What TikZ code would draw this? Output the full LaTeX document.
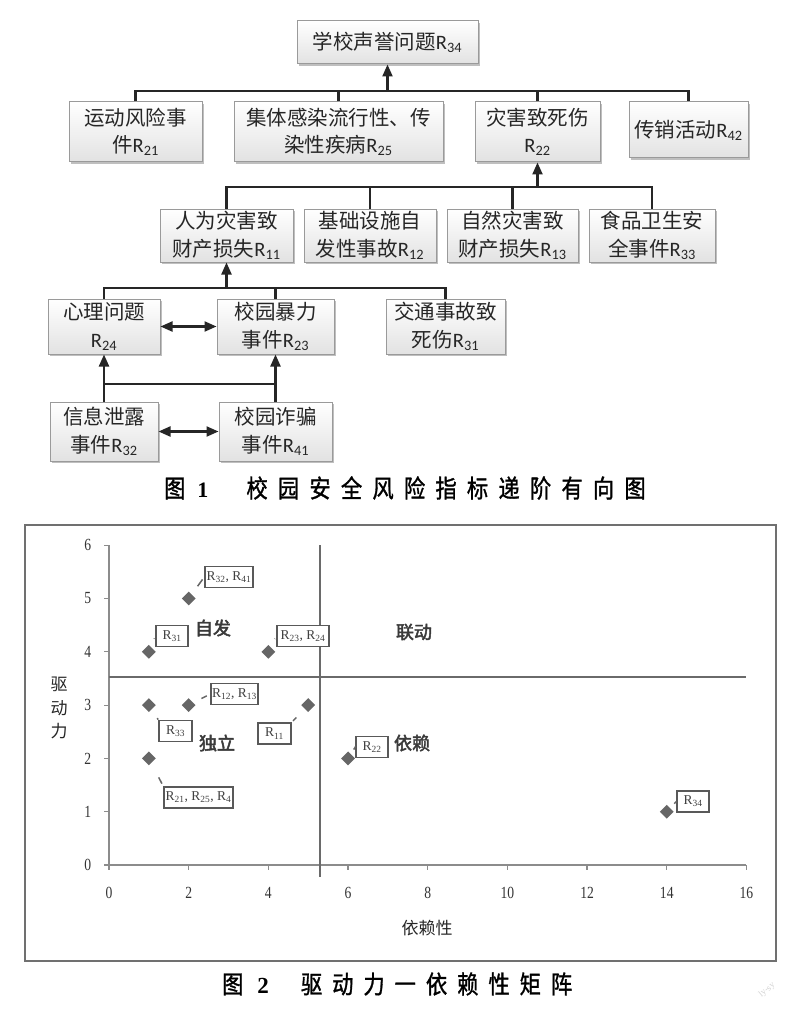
\documentclass[tikz,border=0pt]{standalone}
\usepackage{fontspec}
\setmainfont{Noto Sans CJK SC}
\newfontfamily\latin{Carlito}
\newfontfamily\ser{Liberation Serif}
\newfontfamily\sern[FakeStretch=0.8]{Liberation Serif}
\newfontfamily\cjkb[FakeBold=2.5]{Noto Sans CJK SC}
\newfontfamily\capa[FakeBold=1.2,FakeStretch=0.85,LetterSpace=41]{Noto Sans CJK SC}
\newfontfamily\capb[FakeBold=1.2,FakeStretch=0.85,LetterSpace=40]{Noto Sans CJK SC}
\usepackage{tikz}
\usetikzlibrary{arrows.meta,positioning,shapes.geometric,shadows}
\definecolor{boxline}{HTML}{9A9A9A}
\definecolor{boxbot}{HTML}{E2E2E2}
\definecolor{axisg}{HTML}{8C8C8C}
\definecolor{divg}{HTML}{6A6A6A}
\definecolor{ptg}{HTML}{666666}
\definecolor{quadg}{HTML}{3A3A3A}
\tikzset{
  % gray gradient box of the hierarchy, with a soft shadow
  blk/.style   = {rectangle, draw=boxline, top color=white, bottom color=boxbot, line width=1pt,
                  align=center, inner sep=0pt, text=black!85,
                  font=\fontsize{20.5}{27.5}\selectfont,
                  drop shadow={shadow xshift=2pt, shadow yshift=-2pt, opacity=0.25, fill=black}},
  sz/.style 2 args = {minimum width=#1pt, minimum height=#2pt},
  wire/.style  = {line width=2.2pt, black!85},
  arr/.style   = {wire, -{Triangle[length=12pt,width=10pt]}},
  darr/.style  = {wire, {Triangle[length=12pt,width=10pt]}-{Triangle[length=12pt,width=10pt]}},
  captxt/.style = {text=black, inner sep=0pt},
  frame/.style = {draw=axisg!80!black, line width=2pt},
  axis/.style  = {draw=axisg, line width=1.2pt},
  div/.style   = {draw=divg, line width=1.6pt},
  tick/.style  = {font=\sern\fontsize{17}{17}\selectfont, text=black!80},
  ttl/.style   = {font=\fontsize{17}{23.5}\selectfont, text=black!85, align=center},
  pt/.style    = {diamond, fill=ptg, inner sep=0pt, minimum size=14pt},
  lab/.style   = {rectangle, draw=black!65, line width=1.4pt, fill=white, inner sep=0pt,
                  minimum height=21pt, font=\ser\fontsize{13.5}{13.5}\selectfont, text=black!75},
  lead/.style  = {draw=ptg, line width=1.5pt},
  quad/.style  = {font=\cjkb\fontsize{18}{18}\selectfont, text=quadg},
}
\newcommand{\rsub}[1]{{\latin R\textsubscript{#1}}}
\newcommand{\rlab}[1]{R\textsubscript{#1}}

\begin{document}
\begin{tikzpicture}[x=1pt,y=-1pt]
\useasboundingbox (0,0) rectangle (800,1011);
% --- hierarchy: boxes, top to bottom ---------------------------------------
\node[blk, sz={181}{43}] (r34) at (387.5,42.5) {学校声誉问题\rsub{34}};
\node[blk, sz={133}{60}] (r21) at (135.5,132) {运动风险事\\件\rsub{21}};
\node[blk, sz={209}{60}] (r25) at (338.5,132) {集体感染流行性、传\\染性疾病\rsub{25}};
\node[blk, sz={125}{60}] (r22) at (537.5,132) {灾害致死伤\\\rsub{22}};
\node[blk, sz={119}{56}] (r42) at (688.5,130) {传销活动\rsub{42}};
\node[blk, sz={133}{53}] (r11) at (226.5,235.5) {人为灾害致\\财产损失\rsub{11}};
\node[blk, sz={132}{53}] (r12) at (370,235.5) {基础设施自\\发性事故\rsub{12}};
\node[blk, sz={131}{53}] (r13) at (512.5,235.5) {自然灾害致\\财产损失\rsub{13}};
\node[blk, sz={126}{53}] (r33) at (652,235.5) {食品卫生安\\全事件\rsub{33}};
\node[blk, sz={112}{55}] (r24) at (104,326.5) {心理问题\\\rsub{24}};
\node[blk, sz={117}{55}] (r23) at (275.5,326.5) {校园暴力\\事件\rsub{23}};
\node[blk, sz={119}{55}] (r31) at (445.5,326.5) {交通事故致\\死伤\rsub{31}};
\node[blk, sz={108}{59}] (r32) at (104,431.5) {信息泄露\\事件\rsub{32}};
\node[blk, sz={113}{59}] (r41) at (275.5,431.5) {校园诈骗\\事件\rsub{41}};
% --- hierarchy: bus lines and arrows ----------------------------------------
\coordinate (bus1) at (387.5,91);
\coordinate (bus2) at (537.5,187);
\coordinate (bus3) at (226.5,288);
\coordinate (bus4) at (104,384);
\draw[wire] (r21.north) |- (bus1) -| (r42.north);
\draw[wire] (r25.north) -- (r25.north |- bus1);
\draw[wire] (r22.north) -- (r22.north |- bus1);
\draw[arr] (bus1) -- (r34.south);
\draw[wire] (r11.north) |- (bus2) -| (r33.north);
\draw[wire] (r12.north) -- (r12.north |- bus2);
\draw[wire] (r13.north) -- (r13.north |- bus2);
\draw[arr] (bus2) -- (r22.south);
\draw[wire] (r24.north) |- (bus3) -| (r31.north);
\draw[wire] (r23.north) -- (r23.north |- bus3);
\draw[arr] (bus3) -- (r11.south);
\draw[darr] (r24) -- (r23);
\draw[darr] (r32) -- (r41);
\draw[arr] (r32.north) -- (r24.south);
\draw[arr] (r41.north) -- (r23.south);
\draw[wire] (bus4) -- (bus4 -| r41.north);
\node[captxt, anchor=west] (cap1) at (164,488)
  {\capa\fontsize{25}{25}\selectfont 图\hspace{12pt}{\ser\bfseries\fontsize{22}{22}\selectfont 1}\hspace{38pt}校园安全风险指标递阶有向图};
% --- matrix chart ----------------------------------------------------------
\draw[frame] (25,525) rectangle (776,961);
\begin{scope}[shift={(109,865)}, x=39.84pt, y=53.3pt]
  \draw[axis] (0,0) -- (16,0);
  \draw[axis] (0,0) -- (0,6);
  \foreach \i in {0,2,...,16} {
    \draw[axis] (\i,0) -- (\i,-0.09);
    \node[tick] (xt\i) at (\i,-0.53) {\i};
  }
  \foreach \j in {0,...,6} {
    \draw[axis] (0,\j) -- (-0.12,\j);
    \node[tick] (yt\j) at (-0.53,\j) {\j};
  }
  \draw[div] (5.3,6) -- (5.3,-0.22);
  \draw[div] (0,3.53) -- (16,3.53);
  \node[pt] (p25) at (2,5) {};
  \node[pt] (p14) at (1,4) {};
  \node[pt] (p44) at (4,4) {};
  \node[pt] (p13) at (1,3) {};
  \node[pt] (p23) at (2,3) {};
  \node[pt] (p53) at (5,3) {};
  \node[pt] (p12) at (1,2) {};
  \node[pt] (p62) at (6,2) {};
  \node[pt] (p141) at (14,1) {};
\end{scope}
\node[ttl] (ytl) at (59,708) {驱\\动\\力};
\node[ttl] (xtl) at (427,928) {依赖性};
% --- point labels ----------------------------------------------------------
\node[lab, minimum width=48pt] (l3241) at (229,577) {\rlab{32}, \rlab{41}};
\node[lab, minimum width=32pt] (l31) at (172,636) {\rlab{31}};
\node[lab, minimum width=52pt] (l2324) at (303,636) {\rlab{23}, \rlab{24}};
\node[lab, minimum width=47pt] (l1213) at (234.5,694) {\rlab{12}, \rlab{13}};
\node[lab, minimum width=33pt] (l33) at (175.5,731) {\rlab{33}};
\node[lab, minimum width=33pt] (l11) at (274.5,733.5) {\rlab{11}};
\node[lab, minimum width=32pt] (l22) at (372,747) {\rlab{22}};
\node[lab, minimum width=69pt] (l2125) at (198.5,797.5) {\rlab{21}, \rlab{25}, \rlab{4}};
\node[lab, minimum width=32pt] (l34) at (693,801.5) {\rlab{34}};
\draw[lead, shorten <=10pt, shorten >=3pt] (p25) -- (l3241.west);
\draw[lead, shorten <=9pt, shorten >=3pt] (p14) -- (l31.west);
\draw[lead, shorten <=9pt, shorten >=3pt] (p44) -- (l2324.west);
\draw[lead, shorten <=9pt, shorten >=4pt] (p23) -- (l1213.west);
\draw[lead, shorten <=12pt, shorten >=2pt] (p13) -- (l33.north west);
\draw[lead, shorten <=12pt, shorten >=2pt] (p53) -- (l11.north east);
\draw[lead, shorten <=9pt, shorten >=3pt] (p62) -- (l22.west);
\draw[lead, shorten <=16pt, shorten >=3pt] (p12) -- (l2125.north west);
\draw[lead, shorten <=9pt, shorten >=3pt] (p141) -- (l34.west);
% --- quadrant names --------------------------------------------------------
\node[quad] (qzf) at (213,628) {自发};
\node[quad] (qdl) at (217,743) {独立};
\node[quad] (qld) at (414,632) {联动};
\node[quad] (qyl) at (412,743) {依赖};
\node[captxt, anchor=west] (cap2) at (222,984)
  {\capb\fontsize{25}{25}\selectfont 图\hspace{14pt}{\ser\bfseries\fontsize{23}{23}\selectfont 2}\hspace{32pt}驱动力一依赖性矩阵};
\node[rotate=40, text=gray!35, font=\ser\fontsize{9}{9}\selectfont] (wm) at (767,990) {ly-sy};
\end{tikzpicture}
\end{document}
